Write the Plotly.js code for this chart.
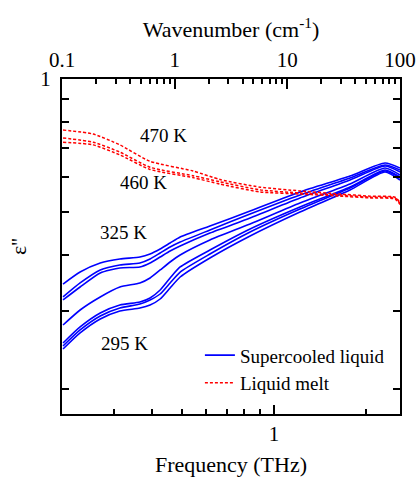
<!DOCTYPE html>
<html><head><meta charset="utf-8">
<script src="https://cdn.plot.ly/plotly-3.0.1.min.js"></script>
<style>html,body{margin:0;padding:0;background:#fff;}#chart{width:416px;height:479px;}</style>
</head><body><div id="chart"></div>
<script>
// Frequency (THz) sample points of the supercooled-liquid spectra
const freqSupercooled = [0.204, 0.232, 0.270, 0.313, 0.364, 0.393, 0.424, 0.457, 0.493, 0.617, 0.835, 1.216, 1.773, 2.308, 2.584];
// Dielectric loss eps'' for each supercooled temperature
const eps325K = [0.3445, 0.3667, 0.3843, 0.3924, 0.3965, 0.4027, 0.4133, 0.4264, 0.4399, 0.4658, 0.5035, 0.5558, 0.6040, 0.6462, 0.6296];
const eps320K = [0.3221, 0.3464, 0.3706, 0.3803, 0.3843, 0.3924, 0.4048, 0.4176, 0.4286, 0.4562, 0.4957, 0.5472, 0.5978, 0.6395, 0.6231];
const eps315K = [0.3171, 0.3392, 0.3648, 0.3745, 0.3764, 0.3843, 0.3965, 0.4090, 0.4198, 0.4491, 0.4856, 0.5387, 0.5916, 0.6362, 0.6167];
const eps310K = [0.2784, 0.3010, 0.3221, 0.3392, 0.3464, 0.3555, 0.3706, 0.3863, 0.4006, 0.4331, 0.4706, 0.5249, 0.5794, 0.6296, 0.6072];
const eps305K = [0.2535, 0.2756, 0.2963, 0.3089, 0.3138, 0.3204, 0.3340, 0.3555, 0.3764, 0.4111, 0.4586, 0.5141, 0.5704, 0.6231, 0.6009];
const eps300K = [0.2496, 0.2713, 0.2918, 0.3041, 0.3105, 0.3171, 0.3271, 0.3464, 0.3667, 0.4027, 0.4515, 0.5088, 0.5675, 0.6199, 0.5978];
const eps295K = [0.2457, 0.2671, 0.2872, 0.2994, 0.3041, 0.3089, 0.3187, 0.3375, 0.3573, 0.3944, 0.4422, 0.5009, 0.5616, 0.6167, 0.5916];
const supercooledSeries = [eps325K, eps320K, eps315K, eps310K, eps305K, eps300K, eps295K];
const supercooledNames = ['325 K', '320 K', '315 K', '310 K', '305 K', '300 K', '295 K'];

// Frequency (THz) sample points of the liquid-melt spectra
const freqMelt = [0.204, 0.256, 0.313, 0.393, 0.543, 0.666, 0.900, 1.216, 1.644, 2.062, 2.489, 2.584];
const eps470K = [0.767, 0.751, 0.710, 0.652, 0.620, 0.593, 0.570, 0.559, 0.550, 0.544, 0.541, 0.527];
const eps465K = [0.736, 0.720, 0.684, 0.632, 0.605, 0.586, 0.562, 0.553, 0.547, 0.541, 0.539, 0.524];
const eps460K = [0.720, 0.710, 0.674, 0.625, 0.599, 0.579, 0.556, 0.550, 0.544, 0.539, 0.536, 0.521];
const meltSeries = [eps470K, eps465K, eps460K];
const meltNames = ['470 K', '465 K', '460 K'];

// Tick values / labels
const freqMajorTicks = [1];
const freqMajorLabels = ['1'];
const freqMinorTicks = [0.3, 0.4, 0.5, 0.6, 0.7, 0.8, 0.9, 2];
const waveMajorTicks = [0.1, 1, 10, 100];
const waveMajorLabels = ['0.1', '1', '10', '100'];
const waveMinorTicks = [0.2,0.3,0.4,0.5,0.6,0.7,0.8,0.9,2,3,4,5,6,7,8,9,20,30,40,50,60,70,80,90];
const epsMajorTicks = [1];
const epsMajorLabels = ['1'];
const epsMinorTicks = [0.9, 0.8, 0.7, 0.6, 0.5, 0.4, 0.3, 0.2];

// Text labels
const tempLabels = ['470 K', '460 K', '325 K', '295 K'];
const legendNames = ['Supercooled liquid', 'Liquid melt'];

const FONT = 'Liberation Serif, Times New Roman, serif';
const traces = [];
supercooledSeries.forEach((ys, i) => {
  traces.push({
    x: freqSupercooled, y: ys, type: 'scatter', mode: 'lines',
    name: i === 0 ? legendNames[0] : supercooledNames[i],
    legendgroup: 'sc', showlegend: i === 0,
    line: {color: '#0000ff', width: 1.6, shape: 'spline', smoothing: 0.6},
    hoverinfo: 'skip'
  });
});
meltSeries.forEach((ys, i) => {
  traces.push({
    x: freqMelt, y: ys, type: 'scatter', mode: 'lines',
    name: i === 0 ? legendNames[1] : meltNames[i],
    legendgroup: 'melt', showlegend: i === 0,
    line: {color: '#ff0000', width: 1.5, dash: '3px,2px', shape: 'spline', smoothing: 0.6},
    hoverinfo: 'skip'
  });
});
// carrier (no visible marks) so the top wavenumber axis is drawn
traces.push({
  x: waveMajorTicks, y: waveMajorTicks.map(() => null), type: 'scatter', mode: 'lines',
  name: 'wavenumber axis', xaxis: 'x2', yaxis: 'y', showlegend: false, hoverinfo: 'skip', line: {width: 0}
});

const axisCommon = {
  showline: true, linewidth: 2, linecolor: '#000',
  ticks: 'inside', tickwidth: 2, tickcolor: '#000',
  showgrid: false, zeroline: false, fixedrange: true
};

const layout = {
  width: 416, height: 479,
  margin: {l: 62, r: 16, t: 79, b: 65},
  paper_bgcolor: '#fff', plot_bgcolor: '#fff',
  font: {family: FONT, size: 21, color: '#000'},
  showlegend: true,
  legend: {x: 0.408, y: 0.232, xanchor: 'left', yanchor: 'top', bgcolor: 'rgba(0,0,0,0)',
           font: {size: 19, family: FONT}, tracegroupgap: 0, itemclick: false},
  xaxis: Object.assign({}, axisCommon, {
    type: 'log', range: [Math.log10(0.2024), Math.log10(2.584)],
    tickvals: freqMajorTicks, ticktext: freqMajorLabels, ticklen: 9,
    minor: {tickmode: 'array', tickvals: freqMinorTicks, ticks: 'inside', ticklen: 5, tickwidth: 2, tickcolor: '#000', showgrid: false},
    tickfont: {size: 21, family: FONT}, mirror: false,
    title: {text: 'Frequency (THz)', font: {size: 22, family: FONT}, standoff: 11}
  }),
  xaxis2: Object.assign({}, axisCommon, {
    type: 'log', overlaying: 'x', side: 'top', anchor: 'y', range: [-1, 2],
    tickvals: waveMajorTicks, ticktext: waveMajorLabels, ticklen: 10,
    minor: {tickmode: 'array', tickvals: waveMinorTicks, ticks: 'inside', ticklen: 5, tickwidth: 2, tickcolor: '#000', showgrid: false},
    tickfont: {size: 21, family: FONT}, ticklabelstandoff: 2,
    title: {text: 'Wavenumber (cm<sup>-1</sup>)', font: {size: 22, family: FONT}, standoff: 4}
  }),
  yaxis: Object.assign({}, axisCommon, {
    type: 'log', range: [-0.7562, 0],
    tickvals: epsMajorTicks, ticktext: epsMajorLabels, ticklen: 7,
    minor: {tickmode: 'array', tickvals: epsMinorTicks, ticks: 'inside', ticklen: 7, tickwidth: 2, tickcolor: '#000', showgrid: false},
    mirror: 'allticks', tickfont: {size: 21, family: FONT}, ticklabelstandoff: 5,
    title: {text: "ε''", font: {size: 22, family: FONT}, standoff: 8}
  }),
  annotations: [
    {text: tempLabels[0], xref: 'paper', yref: 'paper', x: 0.299, y: 0.830, showarrow: false, font: {size: 19, family: FONT}, xanchor: 'center', yanchor: 'middle'},
    {text: tempLabels[1], xref: 'paper', yref: 'paper', x: 0.240, y: 0.690, showarrow: false, font: {size: 19, family: FONT}, xanchor: 'center', yanchor: 'middle'},
    {text: tempLabels[2], xref: 'paper', yref: 'paper', x: 0.183, y: 0.543, showarrow: false, font: {size: 19, family: FONT}, xanchor: 'center', yanchor: 'middle'},
    {text: tempLabels[3], xref: 'paper', yref: 'paper', x: 0.186, y: 0.209, showarrow: false, font: {size: 19, family: FONT}, xanchor: 'center', yanchor: 'middle'}
  ]
};

Plotly.newPlot('chart', traces, layout, {displayModeBar: false, staticPlot: true});
</script>
</body></html>
